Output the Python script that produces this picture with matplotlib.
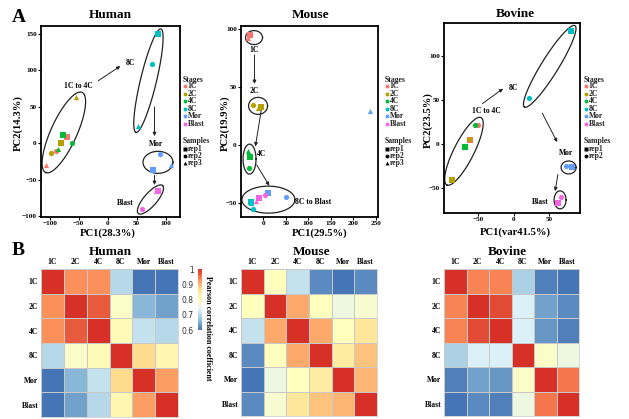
import numpy as np
import matplotlib
matplotlib.use('Agg')
import matplotlib.pyplot as plt
from matplotlib.colors import LinearSegmentedColormap

plt.rcParams['font.family'] = ['Liberation Serif', 'DejaVu Serif']
plt.rcParams['font.weight'] = 'bold'

W, H = 629, 419

# stages / colours
stages = ['1C', '2C', '4C', '8C', 'Mor', 'Blast']
stage_colors = ['#F8766D', '#B79F00', '#00BA38', '#00BFC4', '#619CFF', '#F564E3']
rep_markers = {'rep1': 's', 'rep2': 'o', 'rep3': '^'}

# ---- PCA data ----
human_stage = ['1C'] * 3 + ['2C'] * 3 + ['4C'] * 3 + ['8C'] * 3 + ['Mor'] * 3 + ['Blast'] * 3
human_rep = ['rep1', 'rep2', 'rep3'] * 6
human_pc1 = [-70, -89, -106, -80, -98, -55, -77, -62, -85, 87, 77, 52, 78, 90, 109, 87, 59, 84]
human_pc2 = [9, -11, -30, 0, -13, 63, 11, 0, -8, 150, 109, 24, -37, -15, -29, -66, -90, -66]

mouse_stage = human_stage
mouse_rep = human_rep
mouse_pc1 = [-31, -33, -35, -5, -23, -13, -31, -33, -35, -27, -24, -28, 11, 50, 237, -11, 4, -16]
mouse_pc2 = [95, 96, 93, 33, 35, 32, -10, -20, -5, -49, -55, -50, -41, -45, 30, -46, -43, -48]

bovine_stage = ['1C'] * 2 + ['2C'] * 2 + ['4C'] * 2 + ['8C'] * 2 + ['Mor'] * 2 + ['Blast'] * 2
bovine_rep = ['rep1', 'rep2'] * 6
bovine_pc1 = [-62, -50, -87, -63, -69, -55, 81, 22, 82, 73, 62, 67]
bovine_pc2 = [4, 21, -41, 6, -4, 21, 129, 52, -27, -25, -68, -61]

# ---- correlation matrices ----
human_corr = np.array([
    [1.00, 0.93, 0.93, 0.70, 0.59, 0.59],
    [0.93, 1.00, 0.97, 0.79, 0.66, 0.64],
    [0.93, 0.97, 1.00, 0.81, 0.71, 0.70],
    [0.70, 0.79, 0.81, 1.00, 0.87, 0.82],
    [0.59, 0.66, 0.71, 0.87, 1.00, 0.92],
    [0.59, 0.64, 0.70, 0.82, 0.92, 1.00]])
mouse_corr = np.array([
    [1.00, 0.80, 0.71, 0.62, 0.59, 0.62],
    [0.80, 1.00, 0.91, 0.80, 0.76, 0.78],
    [0.71, 0.91, 1.00, 0.91, 0.80, 0.85],
    [0.62, 0.80, 0.91, 1.00, 0.84, 0.89],
    [0.59, 0.76, 0.80, 0.84, 1.00, 0.90],
    [0.62, 0.78, 0.85, 0.89, 0.90, 1.00]])
bovine_corr = np.array([
    [1.00, 0.94, 0.94, 0.69, 0.61, 0.59],
    [0.94, 1.00, 0.98, 0.73, 0.64, 0.62],
    [0.94, 0.98, 1.00, 0.73, 0.63, 0.61],
    [0.69, 0.73, 0.73, 1.00, 0.79, 0.76],
    [0.61, 0.64, 0.63, 0.79, 1.00, 0.95],
    [0.59, 0.62, 0.61, 0.76, 0.95, 1.00]])

cmap = LinearSegmentedColormap.from_list(
    'rdylbu7', ['#4575B4', '#91BFDB', '#E0F3F8', '#FFFFBF', '#FEE090', '#FC8D59', '#D73027'])


def px_axes(fig, l, t, r, b):
    return fig.add_axes([l / W, 1 - b / H, (r - l) / W, (b - t) / H])


def ellipse(ax, p1, p2, w):
    # ellipse whose major axis joins p1 and p2 (data), minor width w in pixels
    d1 = ax.transData.transform(p1)
    d2 = ax.transData.transform(p2)
    c = (d1 + d2) / 2
    a = np.linalg.norm(d2 - d1) / 2
    u = (d2 - d1) / (2 * a)
    v = np.array([-u[1], u[0]])
    t = np.linspace(0, 2 * np.pi, 200)
    pts = c + np.outer(a * np.cos(t), u) + np.outer(w / 2 * np.sin(t), v)
    d = ax.transData.inverted().transform(pts)
    ax.plot(d[:, 0], d[:, 1], color='#222222', lw=0.9, clip_on=False)


def ellipse_c(ax, c, wpx, hpx, ang=0):
    dc = ax.transData.transform(c)
    th = np.radians(ang)
    u = np.array([np.cos(th), np.sin(th)])
    v = np.array([-u[1], u[0]])
    t = np.linspace(0, 2 * np.pi, 200)
    pts = dc + np.outer(wpx / 2 * np.cos(t), u) + np.outer(hpx / 2 * np.sin(t), v)
    d = ax.transData.inverted().transform(pts)
    ax.plot(d[:, 0], d[:, 1], color='#222222', lw=0.9, clip_on=False)


def arrow(ax, p1, p2):
    ax.annotate('', xy=p2, xytext=p1,
                arrowprops=dict(arrowstyle='-|>', color='#222222', lw=0.7,
                                mutation_scale=5, shrinkA=0, shrinkB=0))


def pca_panel(ax, pc1, pc2, st, rp, xlim, ylim, xt, yt):
    ax.set_xlim(xlim)
    ax.set_ylim(ylim)
    for x, y, s, r in zip(pc1, pc2, st, rp):
        ax.scatter(x, y, s=14, marker=rep_markers[r], color=stage_colors[stages.index(s)],
                   linewidths=0, zorder=3)
    ax.set_xticks(xt)
    ax.set_yticks(yt)
    ax.tick_params(labelsize=5.2, length=2, width=0.8, pad=1)
    for sp in ax.spines.values():
        sp.set_linewidth(1.3)


fig = plt.figure(figsize=(W / 100, H / 100), dpi=100)
kw = dict(fontsize=5.5, fontweight='bold', ha='center', va='center')

# ---- Human PCA ----
ax = px_axes(fig, 41, 26, 180, 217)
pca_panel(ax, human_pc1, human_pc2, human_stage, human_rep,
          (-115, 125), (-101, 161), [-100, -50, 0, 50, 100], [-100, -50, 0, 50, 100, 150])
ellipse(ax, (-44, 70), (-107, -40), 26)
ellipse(ax, (92, 157), (49, 15), 16)
ellipse_c(ax, (87, -26), 30, 22)
ellipse_c(ax, (74, -77), 37, 13, 49)
ax.text(-51, 79, '1C to 4C', **kw)
ax.text(39, 110, '8C', **kw)
ax.text(83, -1, 'Mor', **kw)
ax.text(30, -82, 'Blast', **kw)
arrow(ax, (-16, 86), (22, 106))
arrow(ax, (81, 50), (81, 10))
arrow(ax, (81, -44), (81, -57))

# ---- Mouse PCA ----
ax = px_axes(fig, 241, 26, 378, 217)
pca_panel(ax, mouse_pc1, mouse_pc2, mouse_stage, mouse_rep,
          (-50, 255), (-62, 103), [0, 50, 100, 150, 200, 250], [-50, 0, 50, 100])
ellipse_c(ax, (-21, 93), 17, 14)
ellipse_c(ax, (-12, 34), 19, 17)
ellipse_c(ax, (-31, -12), 13, 30)
ellipse_c(ax, (11, -47), 53, 27)
ax.text(-20, 82, '1C', **kw)
ax.text(-20, 47, '2C', **kw)
ax.text(-4, -8, '4C', **kw)
ax.text(110, -49, '8C to Blast', **kw)
arrow(ax, (-20, 78), (-20, 53))
arrow(ax, (-5, 30), (-18, -1))
arrow(ax, (-15, -17), (13, -35))

# ---- Bovine PCA ----
ax = px_axes(fig, 444, 23, 580, 213)
pca_panel(ax, bovine_pc1, bovine_pc2, bovine_stage, bovine_rep,
          (-98, 93), (-79, 138), [-50, 0, 50], [-50, 0, 50, 100])
ellipse(ax, (-46, 30), (-94, -47), 20)
ellipse(ax, (86, 135), (15, 42), 17)
ellipse_c(ax, (77, -27), 15, 13)
ellipse_c(ax, (65, -64), 12, 18)
ax.text(-38, 38, '1C to 4C', **kw)
ax.text(-1, 64, '8C', **kw)
ax.text(74, -11, 'Mor', **kw)
ax.text(37, -66, 'Blast', **kw)
arrow(ax, (-44, 46), (-15, 63))
arrow(ax, (40, 35), (61, 2))
arrow(ax, (62, -35), (58, -54))

# ---- heatmaps ----
heat_boxes = [(human_corr, (41, 269, 178, 417)),
              (mouse_corr, (241, 269, 377, 416)),
              (bovine_corr, (444, 269, 579, 416))]
meshes = []
for mat, box in heat_boxes:
    hx = px_axes(fig, *box)
    mesh = hx.pcolormesh(mat, cmap=cmap, vmin=0.6, vmax=1.0, edgecolors='#c8c8c8', linewidth=0.5)
    meshes.append(mesh)
    hx.set_xlim(0, 6)
    hx.set_ylim(6, 0)
    hx.set_xticks(np.arange(6) + 0.5)
    hx.set_yticks(np.arange(6) + 0.5)
    hx.set_xticklabels(stages)
    hx.set_yticklabels(stages)
    hx.xaxis.tick_top()
    hx.tick_params(length=0, labelsize=5.5, pad=2)
    for sp in hx.spines.values():
        sp.set_color('#c8c8c8')
        sp.set_linewidth(0.5)

cax = px_axes(fig, 198, 269, 202, 330)
cb = fig.colorbar(meshes[0], cax=cax)
cb.outline.set_visible(False)
cb.set_ticks([0.6, 0.7, 0.8, 0.9, 1.0])
cax.yaxis.set_ticks_position('left')
cax.set_yticklabels(['0.6', '0.7', '0.8', '0.9', '1'], fontfamily='DejaVu Sans', fontweight='normal',
                    fontsize=5.5, color='#333333')
cax.tick_params(length=0, pad=3)

# ---- overlay for labels, legends & panel letters (pixel coordinates) ----
ov = fig.add_axes([0, 0, 1, 1])
ov.set_xlim(0, W)
ov.set_ylim(H, 0)
ov.axis('off')
ov.patch.set_alpha(0)

big = dict(fontsize=9.5, fontweight='bold', ha='center', va='center')
lab = dict(fontsize=7.7, fontweight='bold', ha='center', va='center')
ov.text(110, 15, 'Human', **big)
ov.text(311, 15, 'Mouse', **big)
ov.text(515, 14, 'Bovine', **big)
ov.text(108, 233, 'PC1(28.3%)', **lab)
ov.text(320, 233, 'PC1(29.5%)', **lab)
ov.text(515, 232, 'PC1(var41.5%)', **lab)
ov.text(18, 123, 'PC2(14.3%)', rotation=90, **lab)
ov.text(225, 123, 'PC2(19.9%)', rotation=90, **lab)
ov.text(428, 120, 'PC2(23.5%)', rotation=90, **lab)
ov.text(110, 252, 'Human', **big)
ov.text(312, 252, 'Mouse', **big)
ov.text(507, 252, 'Bovine', **big)

ov.text(12, 17, 'A', fontsize=14, fontweight='bold', va='center')
ov.text(12, 250, 'B', fontsize=14, fontweight='bold', va='center')
ov.text(208, 328, 'Pearson correlation coefficient', rotation=-90, fontsize=5.8,
        fontweight='bold', ha='center', va='center')

legends = [(183, ['rep1', 'rep2', 'rep3']), (385, ['rep1', 'rep2', 'rep3']), (584, ['rep1', 'rep2'])]
for lx, reps in legends:
    ov.text(lx, 79.5, 'Stages', fontsize=5.5, fontweight='bold', va='center', color='#222222')
    for i, s in enumerate(stages):
        y = 86.2 + i * 7.5
        ov.plot(lx + 1.8, y, 'o', ms=2.8, color=stage_colors[i], mec='none')
        ov.text(lx + 4.8, y, s, fontsize=5.5, fontweight='bold', va='center', color='#222222')
    ov.text(lx, 141, 'Samples', fontsize=5.5, fontweight='bold', va='center', color='#222222')
    for i, r in enumerate(reps):
        y = 149 + i * 7
        ov.plot(lx + 1.8, y, rep_markers[r], ms=2.8, color='black', mec='none')
        ov.text(lx + 4.8, y, r, fontsize=5.5, fontweight='bold', va='center', color='#222222')

fig.savefig('out.png', dpi=100)
